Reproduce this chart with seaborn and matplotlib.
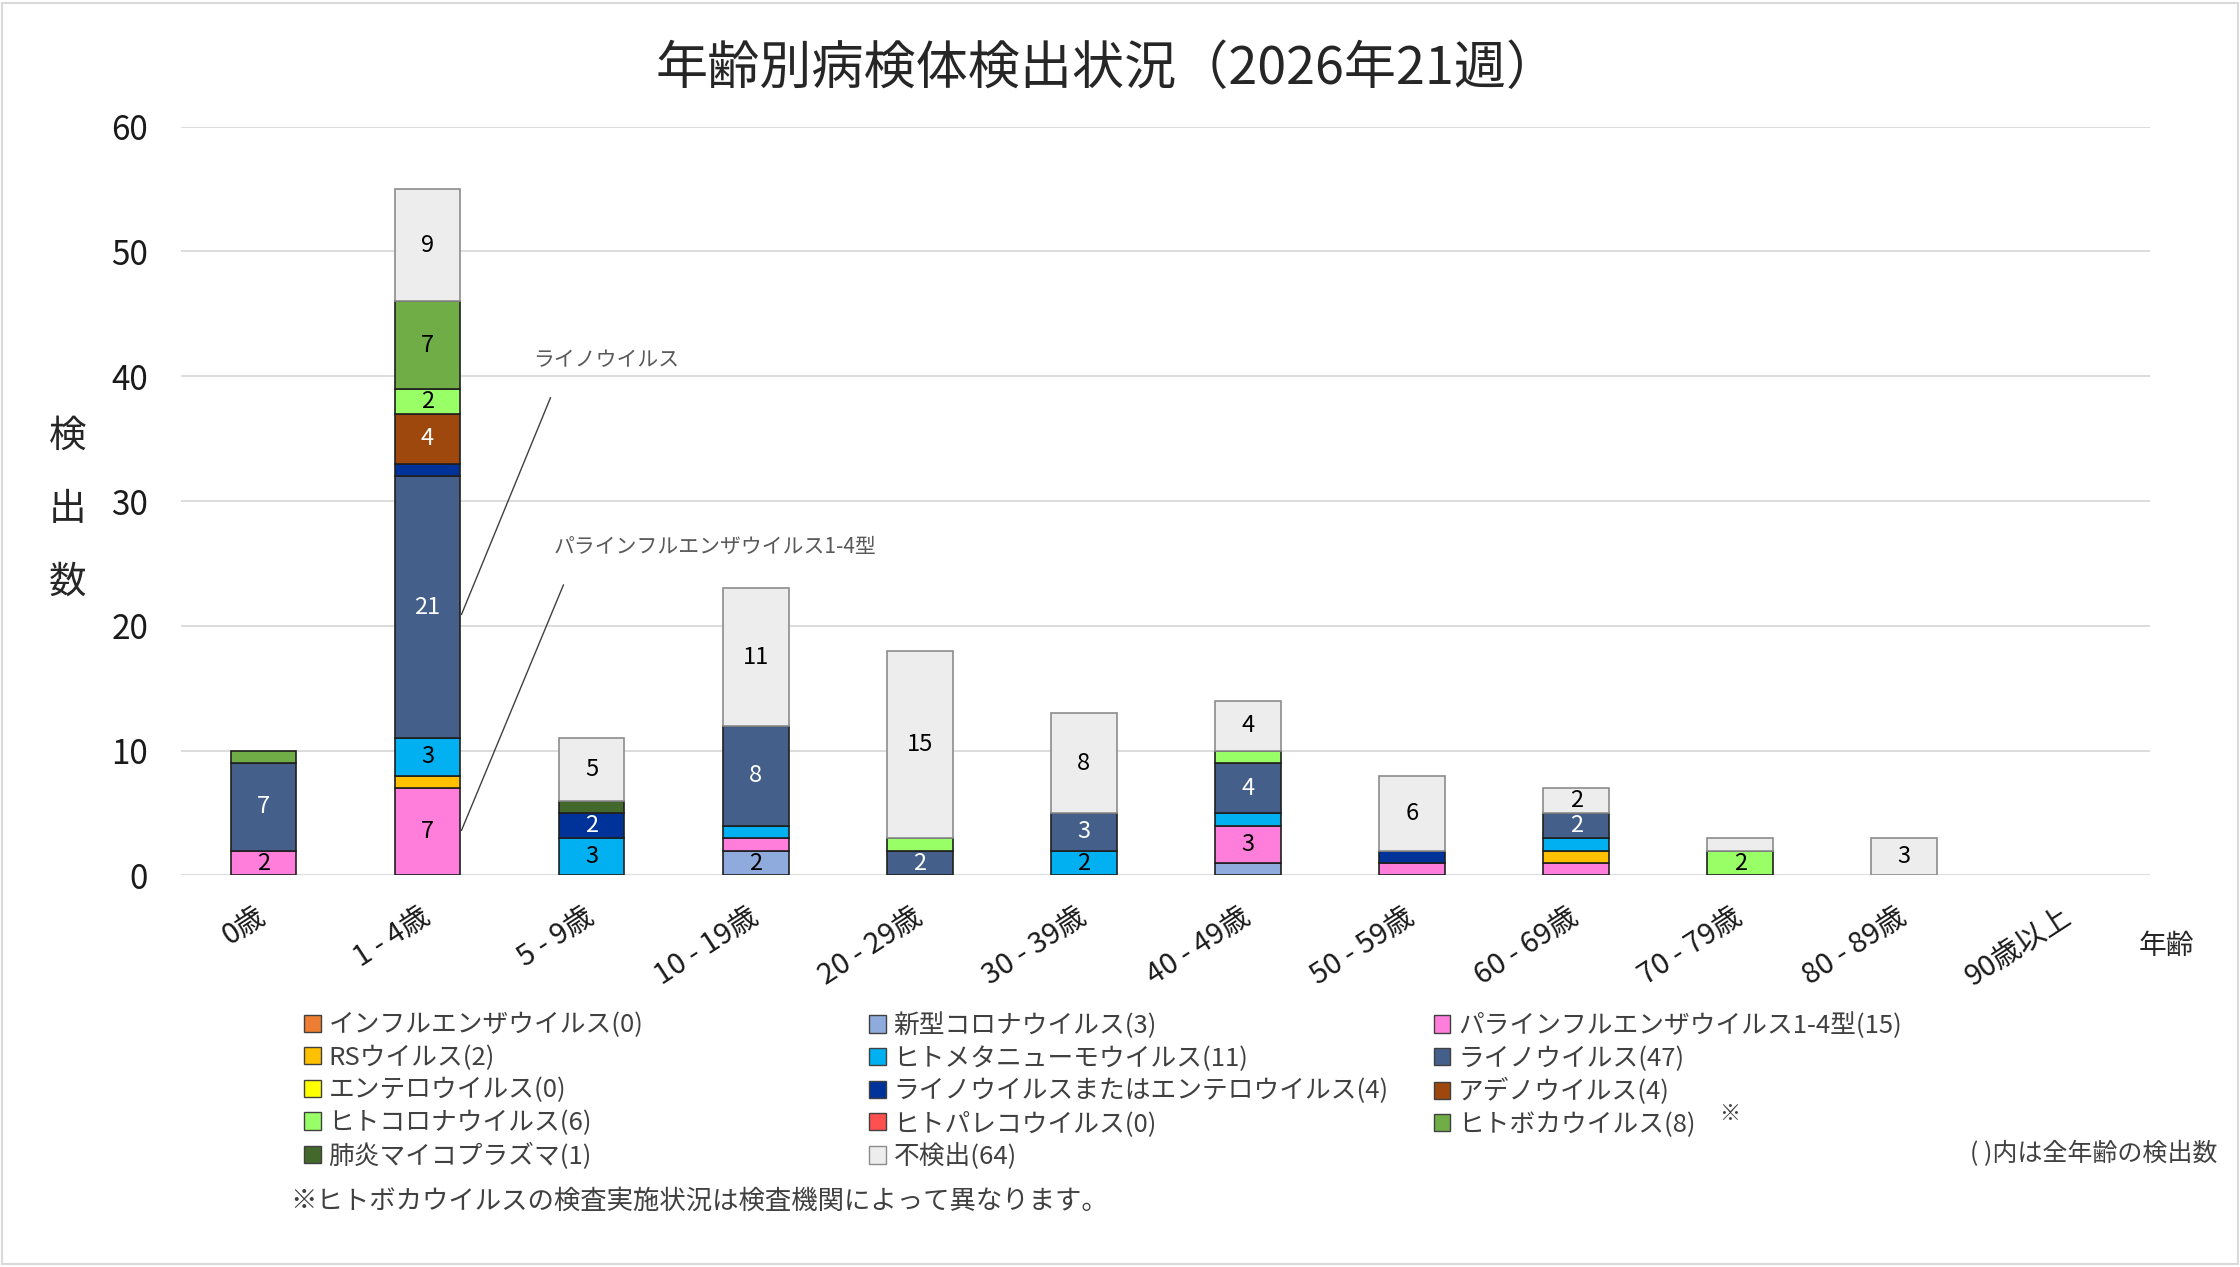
import numpy as np
import pandas as pd
import matplotlib.pyplot as plt
import seaborn as sns
from matplotlib.patches import Patch, Rectangle

sns.set_style('white')
plt.rcParams['font.family'] = ['Noto Sans CJK JP', 'DejaVu Sans']

ages = ['0歳', '1 - 4歳', '5 - 9歳', '10 - 19歳', '20 - 29歳', '30 - 39歳',
        '40 - 49歳', '50 - 59歳', '60 - 69歳', '70 - 79歳', '80 - 89歳', '90歳以上']

# 積み上げ順（下から）
names = ['インフルエンザウイルス', '新型コロナウイルス', 'パラインフルエンザウイルス1-4型',
         'RSウイルス', 'ヒトメタニューモウイルス', 'ライノウイルス', 'エンテロウイルス',
         'ライノウイルスまたはエンテロウイルス', 'アデノウイルス', 'ヒトコロナウイルス',
         'ヒトパレコウイルス', 'ヒトボカウイルス', '肺炎マイコプラズマ', '不検出']

flu        = [0, 0, 0, 0, 0, 0, 0, 0, 0, 0, 0, 0]
covid      = [0, 0, 0, 2, 0, 0, 1, 0, 0, 0, 0, 0]
para       = [2, 7, 0, 1, 0, 0, 3, 1, 1, 0, 0, 0]
rsv        = [0, 1, 0, 0, 0, 0, 0, 0, 1, 0, 0, 0]
hmpv       = [0, 3, 3, 1, 0, 2, 1, 0, 1, 0, 0, 0]
rhino      = [7, 21, 0, 8, 2, 3, 4, 0, 2, 0, 0, 0]
entero     = [0, 0, 0, 0, 0, 0, 0, 0, 0, 0, 0, 0]
rhino_ent  = [0, 1, 2, 0, 0, 0, 0, 1, 0, 0, 0, 0]
adeno      = [0, 4, 0, 0, 0, 0, 0, 0, 0, 0, 0, 0]
hcov       = [0, 2, 0, 0, 1, 0, 1, 0, 0, 2, 0, 0]
parecho    = [0, 0, 0, 0, 0, 0, 0, 0, 0, 0, 0, 0]
boca       = [1, 7, 0, 0, 0, 0, 0, 0, 0, 0, 0, 0]
myco       = [0, 0, 1, 0, 0, 0, 0, 0, 0, 0, 0, 0]
negative   = [0, 9, 5, 11, 15, 8, 4, 6, 2, 1, 3, 0]

series = [flu, covid, para, rsv, hmpv, rhino, entero, rhino_ent, adeno, hcov,
          parecho, boca, myco, negative]

colors = ['#ED7D31', '#8FAADC', '#FF7DDB', '#FFC000', '#00B0F0', '#44608A', '#FFFF00',
          '#003399', '#9E480E', '#99FF66', '#FF5050', '#70AD47', '#43682B', '#EDEDED']
white_text = {'#44608A', '#003399', '#9E480E', '#43682B'}

fig = plt.figure(figsize=(22.4, 12.67), dpi=100)
ax = fig.add_axes([0.081, 0.309, 0.879, 0.591])

base = np.zeros(len(ages))
for name, vals, c in zip(names, series, colors):
    vals = np.array(vals, dtype=float)
    ec = '#8C8C8C' if name == '不検出' else '#1F1F1F'
    sns.barplot(x=ages, y=vals, bottom=base, color=c, width=0.4, errorbar=None,
                edgecolor=ec, linewidth=1.2, saturation=1, ax=ax)
    cont = ax.containers[-1]
    labels = [f'{int(v)}' if v >= 2 else '' for v in vals]
    ax.bar_label(cont, labels=labels, label_type='center', fontsize=17,
                 color='white' if c in white_text else 'black')
    for p, v in zip(cont.patches, vals):
        if v == 0:
            p.set_linewidth(0)
    base += vals

ax.set_ylim(0, 60)
ax.set_xlim(-0.5, len(ages) - 0.5)
ax.set_yticks(range(0, 61, 10))
ax.yaxis.grid(True, color='#D9D9D9', linewidth=1.3)
ax.set_axisbelow(True)
for s in ax.spines.values():
    s.set_visible(False)
ax.set_xlabel('')
ax.set_ylabel('')
ax.tick_params(axis='y', labelsize=24, length=0, pad=24, labelcolor='#1A1A1A')
ax.tick_params(axis='x', labelsize=21, length=0, pad=28, labelcolor='#1A1A1A')
plt.setp(ax.get_xticklabels(), rotation=33, ha='right', va='center', rotation_mode='anchor')

# 引き出し線
ax.annotate('', xy=(1.2, 20.7), xytext=(1.756, 38.5),
            arrowprops=dict(arrowstyle='-', color='#404040', lw=1))
ax.text(1.643, 41.3, 'ライノウイルス', fontsize=15, color='#595959', va='center')
ax.annotate('', xy=(1.2, 3.4), xytext=(1.835, 23.5),
            arrowprops=dict(arrowstyle='-', color='#404040', lw=1))
ax.text(1.77, 26.3, 'パラインフルエンザウイルス1-4型', fontsize=15, color='#595959', va='center')

fig.text(0.4944, 0.9455, '年齢別病検体検出状況（2026年21週）', fontsize=37.5,
         ha='center', va='center', color='#262626')
fig.text(0.030, 0.598, '検\n出\n数', fontsize=27, ha='center', va='center',
         linespacing=2.13, color='#262626')
fig.text(0.967, 0.253, '年齢', fontsize=20, ha='center', va='center', color='#262626')

# 凡例（横並び順）
handles = []
for name, vals, c in zip(names, series, colors):
    ec = '#8C8C8C' if name == '不検出' else '#404040'
    handles.append(Patch(facecolor=c, edgecolor=ec, linewidth=1,
                         label=f'{name}({int(sum(vals))})'))
col_x = [0.1357, 0.388, 0.640]
for i, x in enumerate(col_x):
    lg = fig.legend(handles=handles[i::3], loc='upper left', bbox_to_anchor=(x, 0.201),
                    frameon=False, fontsize=18.5, handlelength=0.65, handleheight=0.65,
                    handletextpad=0.3, labelspacing=0.255, borderpad=0, borderaxespad=0)
    for t in lg.get_texts():
        t.set_color('#404040')

fig.text(0.772, 0.121, '※', fontsize=15, color='#404040', ha='center', va='center')
fig.text(0.990, 0.089, '( )内は全年齢の検出数', fontsize=18, color='#404040',
         ha='right', va='center')
fig.text(0.1295, 0.052, '※ヒトボカウイルスの検査実施状況は検査機関によって異なります。',
         fontsize=19, color='#404040', va='center')

fig.patches.append(Rectangle((0.001, 0.002), 0.998, 0.996, transform=fig.transFigure,
                             fill=False, edgecolor='#D9D9D9', linewidth=1.5))

fig.savefig('out.png', dpi=100)
